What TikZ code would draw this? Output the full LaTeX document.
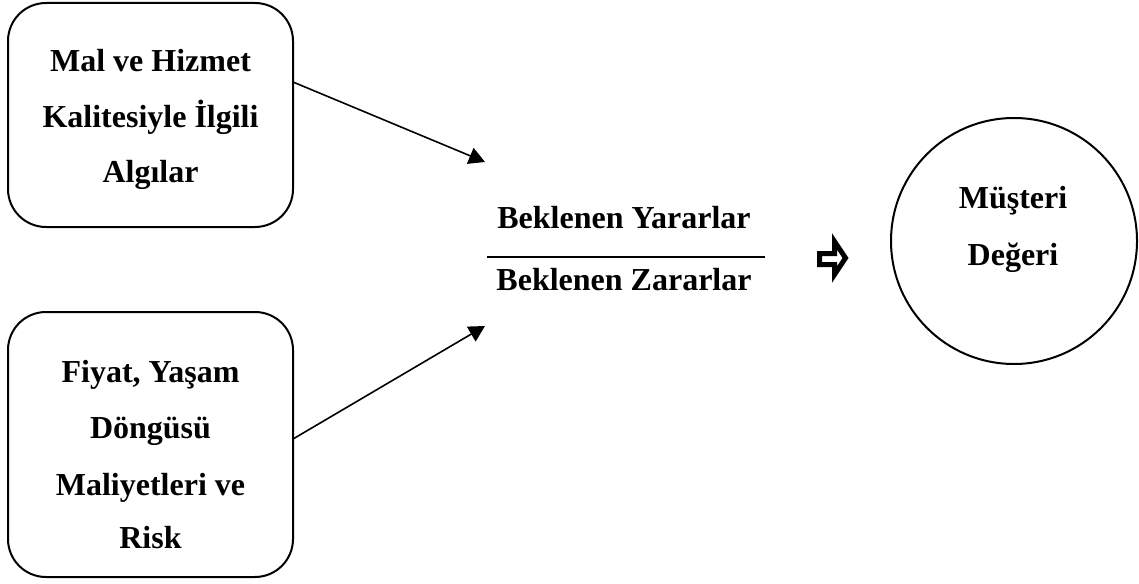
\documentclass[tikz,border=0pt]{standalone}
\usepackage{fontspec}
\setmainfont{Liberation Serif}
\usetikzlibrary{arrows.meta}
\tikzset{
  lbl/.style={font=\fontsize{32}{55}\selectfont\bfseries, align=center, inner sep=0pt},
  roundbox/.style={draw, line width=2pt, rounded corners=38pt, inner sep=0pt},
  conn/.style={line width=1.6pt, -{Triangle[length=16pt,width=17pt]}},
}
\begin{document}
\begin{tikzpicture}[x=1pt,y=-1pt]
\useasboundingbox (0,0) rectangle (1139,583);
% left boxes
\node[roundbox, minimum width=285pt, minimum height=224pt] (b1) at (150.5,115) {};
\node[roundbox, minimum width=285pt, minimum height=265pt] (b2) at (150.5,444.5) {};
\node[lbl, anchor=base] (t1a) at (150.5,72) {Mal ve Hizmet};
\node[lbl, anchor=base] (t1b) at (150.5,128) {Kalitesiyle İlgili};
\node[lbl, anchor=base] (t1c) at (150.5,182) {Algılar};
\node[lbl, anchor=base] (t2a) at (150.5,382) {Fiyat, Yaşam};
\node[lbl, anchor=base] (t2b) at (150.5,438) {Döngüsü};
\node[lbl, anchor=base] (t2c) at (150.5,495) {Maliyetleri ve};
\node[lbl, anchor=base] (t2d) at (150.5,548) {Risk};
% fraction
\node[lbl, anchor=base] (num) at (624,228) {Beklenen Yararlar};
\node[lbl, anchor=base] (den) at (624,290) {Beklenen Zararlar};
\coordinate (fl) at (487,257);
\coordinate (fr) at (765,257);
\draw[line width=1.6pt] (fl) -- (fr);
% connectors
\coordinate (s1) at (293,82);
\coordinate (e1) at (485,162);
\coordinate (s2) at (293,439);
\coordinate (e2) at (485,326);
\draw[conn] (s1) -- (e1);
\draw[conn] (s2) -- (e2);
% hollow arrow
\draw[line width=5pt, fill=white, miter limit=10]
  (819.5,253.5) -- (834.5,253.5) -- (834.5,241.5) -- (845.5,258) -- (834.5,274.5) -- (834.5,264.5) -- (819.5,264.5) -- cycle;
% circle
\node[draw, circle, line width=2pt, minimum size=246pt, inner sep=0pt] (c) at (1014,241) {};
\node[lbl, anchor=base] (c1) at (1013,208) {Müşteri};
\node[lbl, anchor=base] (c2) at (1013,265) {Değeri};
\end{tikzpicture}
\end{document}
